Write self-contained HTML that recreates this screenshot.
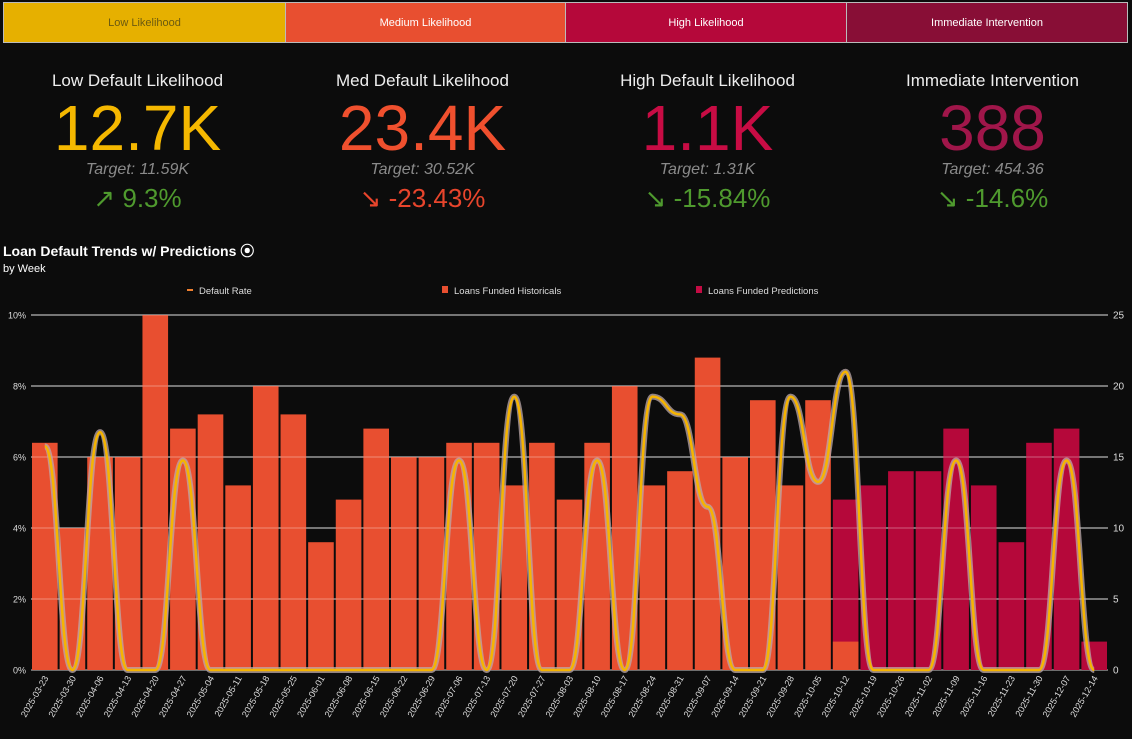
<!DOCTYPE html>
<html><head><meta charset="utf-8">
<style>
body{margin:0;width:1132px;height:739px;background:#0c0c0c;font-family:"Liberation Sans","DejaVu Sans",sans-serif;overflow:hidden;position:relative;color:#fff}
.btn{position:absolute;top:2px;height:41px;border:1px solid #bbb;font-size:11px;display:flex;align-items:center;justify-content:center;box-sizing:border-box}
.kpi{position:absolute;top:0;width:285px;height:230px;text-align:center}
.kpi div{position:absolute;left:0;width:100%;white-space:nowrap}
.kt{font-size:17px;color:#eee;top:71px;line-height:20px}
.kv{font-size:64px;line-height:64px;top:96px}
.kg{font-size:16px;font-style:italic;color:#8a8a8a;top:160px;line-height:20px}
.kc{font-size:26px;color:#4f9a2e;top:183px;line-height:30px}
</style></head><body>
<div class="btn" style="left:3px;width:283px;background:#e6b000;color:#6b5a10">Low Likelihood</div>
<div class="btn" style="left:285px;width:281px;background:#e84f30">Medium Likelihood</div>
<div class="btn" style="left:565px;width:282px;background:#b5083a">High Likelihood</div>
<div class="btn" style="left:846px;width:282px;background:#880e36">Immediate Intervention</div>

<div class="kpi" style="left:-5px"><div class="kt">Low Default Likelihood</div><div class="kv" style="color:#f5b800">12.7K</div><div class="kg">Target: 11.59K</div><div class="kc">↗ 9.3%</div></div>
<div class="kpi" style="left:280px"><div class="kt">Med Default Likelihood</div><div class="kv" style="color:#f0502e">23.4K</div><div class="kg">Target: 30.52K</div><div class="kc" style="color:#e8452c">↘ -23.43%</div></div>
<div class="kpi" style="left:565px"><div class="kt">High Default Likelihood</div><div class="kv" style="color:#c80c44">1.1K</div><div class="kg">Target: 1.31K</div><div class="kc">↘ -15.84%</div></div>
<div class="kpi" style="left:850px"><div class="kt">Immediate Intervention</div><div class="kv" style="color:#a0164a">388</div><div class="kg">Target: 454.36</div><div class="kc">↘ -14.6%</div></div>

<div style="position:absolute;left:3px;top:241px;font-size:14px;font-weight:bold">Loan Default Trends w/ Predictions ⦿</div>
<div style="position:absolute;left:3px;top:263px;font-size:11px">by Week</div>

<svg id="chart" width="1132" height="739" style="position:absolute;left:0;top:0" xmlns="http://www.w3.org/2000/svg"></svg>
<script>
const dates=["2025-03-23","2025-03-30","2025-04-06","2025-04-13","2025-04-20","2025-04-27","2025-05-04","2025-05-11","2025-05-18","2025-05-25","2025-06-01","2025-06-08","2025-06-15","2025-06-22","2025-06-29","2025-07-06","2025-07-13","2025-07-20","2025-07-27","2025-08-03","2025-08-10","2025-08-17","2025-08-24","2025-08-31","2025-09-07","2025-09-14","2025-09-21","2025-09-28","2025-10-05","2025-10-12","2025-10-19","2025-10-26","2025-11-02","2025-11-09","2025-11-16","2025-11-23","2025-11-30","2025-12-07","2025-12-14"];
const historicals=[16,10,15,15,25,17,18,13,20,18,9,12,17,15,15,16,16,13,16,12,16,20,13,14,22,15,19,13,19,2,null,null,null,null,null,null,null,null,null];
const predictions=[null,null,null,null,null,null,null,null,null,null,null,null,null,null,null,null,null,null,null,null,null,null,null,null,null,null,null,null,null,12,13,14,14,17,13,9,16,17,2];
const defaultRate=[6.3,0,6.7,0,0,5.9,0,0,0,0,0,0,0,0,0,5.9,0,7.7,0,0,5.9,0,7.7,7.2,4.6,0,0,7.7,5.3,8.4,0,0,0,5.9,0,0,0,5.9,0];
const leftTicks=[0,2,4,6,8,10];
const rightTicks=[0,5,10,15,20,25];
const svg=document.getElementById('chart');
const NS="http://www.w3.org/2000/svg";
const X0=31,X1=1108,Y0=670,Y1=315;
const band=(X1-X0)/dates.length;
const xc=i=>X0+band*(i+0.5);
const yL=v=>Y0-(v/10)*(Y0-Y1);
const yR=v=>Y0-(v/25)*(Y0-Y1);
function mk(tag,attrs){const e=document.createElementNS(NS,tag);for(const k in attrs)e.setAttribute(k,attrs[k]);svg.appendChild(e);return e;}
leftTicks.forEach(t=>{
  const g=mk('line',{x1:X0,x2:X1,y1:yL(t),y2:yL(t),stroke:'#cfcfcf','stroke-width':1});
  
  
  const tx=mk('text',{x:26,y:yL(t)+3.5,'text-anchor':'end','font-size':9,fill:'#ddd'});
  tx.textContent=t+'%';
  
  
});
rightTicks.forEach(t=>{
  const tx=mk('text',{x:1113,y:yR(t)+3.5,'font-size':10,fill:'#ddd'});
  tx.textContent=t;
  
  
});
const bw=band-2;
dates.forEach((d,i)=>{
  if(predictions[i]!=null){
    const r=mk('rect',{x:xc(i)-bw/2,y:yR(predictions[i]),width:bw,height:Y0-yR(predictions[i]),fill:'#b5083a'});
    
    
  }
  if(historicals[i]!=null){
    const r=mk('rect',{x:xc(i)-bw/2,y:yR(historicals[i]),width:bw,height:Y0-yR(historicals[i]),fill:'#e84f30'});
    
    
  }
  const tx=mk('text',{x:0,y:0,'font-size':9,fill:'#ddd','text-anchor':'end',transform:`translate(${xc(i)+4},${Y0+8}) rotate(-60)`});
  tx.textContent=d;
  
  
});
leftTicks.forEach(t=>{if(t>0){const g=mk('line',{x1:X0,x2:X1,y1:yL(t),y2:yL(t),stroke:'rgba(255,255,255,0.35)','stroke-width':1});

}});
// bump curve: horizontal tangent at every point
const px=defaultRate.map((v,i)=>xc(i)),py=defaultRate.map(v=>yL(v));
let dstr=`M${px[0]},${py[0]}`;
for(let i=0;i<px.length-1;i++){const mx=(px[i]+px[i+1])/2;dstr+=` C${mx},${py[i]} ${mx},${py[i+1]} ${px[i+1]},${py[i+1]}`;}
const halo=mk('path',{d:dstr,fill:'none',stroke:'rgba(190,170,170,0.75)','stroke-width':6,'stroke-linejoin':'round'});


const line=mk('path',{d:dstr,fill:'none',stroke:'#f6b400','stroke-width':2.5,'stroke-linejoin':'round'});


const legend=[["Default Rate",'#f08030',188,'line'],["Loans Funded Historicals",'#e84f30',443,'box'],["Loans Funded Predictions",'#c40c44',697,'box']];
legend.forEach(l=>{
  if(l[3]==='line'){const s=mk('rect',{x:l[2]-1,y:289,width:6,height:2,fill:l[1]});}
  else{const s=mk('rect',{x:l[2]-1,y:286,width:6,height:7,fill:l[1]});}
  const t=mk('text',{x:l[2]+11,y:294,'font-size':9.5,fill:'#ddd'});
  t.textContent=l[0];
  
  
});
</script>
</body></html>
